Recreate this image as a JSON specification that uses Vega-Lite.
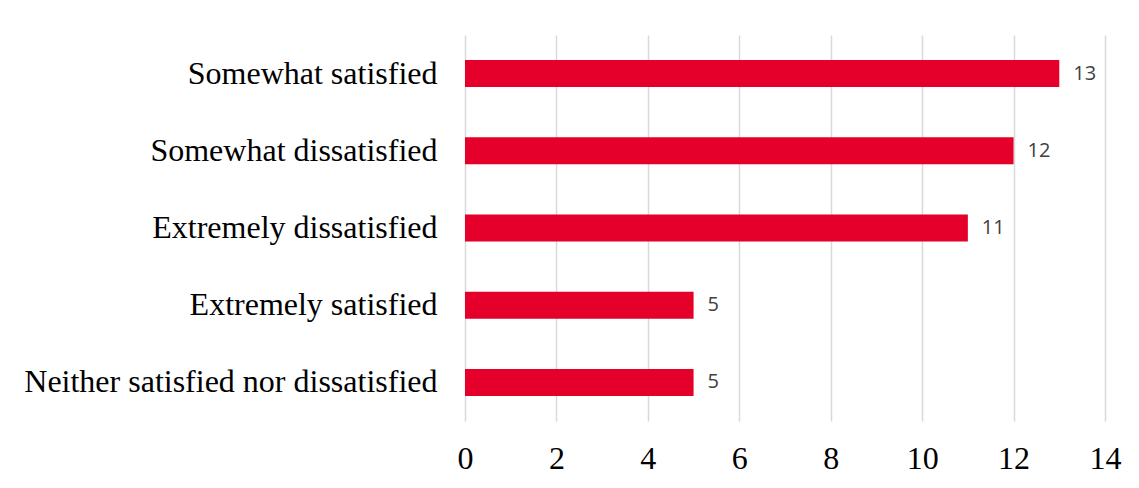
{
  "$schema": "https://vega.github.io/schema/vega-lite/v6.json",
  "autosize": "none",
  "width": 640,
  "height": 386,
  "padding": {"left": 465, "top": 35, "right": 34, "bottom": 67},
  "background": "white",
  "data": {
    "values": [
      {"response": "Somewhat satisfied", "count": 13},
      {"response": "Somewhat dissatisfied", "count": 12},
      {"response": "Extremely dissatisfied", "count": 11},
      {"response": "Extremely satisfied", "count": 5},
      {"response": "Neither satisfied nor dissatisfied", "count": 5}
    ]
  },
  "encoding": {
    "y": {
      "field": "response",
      "type": "nominal",
      "sort": null,
      "title": null,
      "scale": {"paddingInner": 0.65, "paddingOuter": 0.325},
      "axis": {
        "domain": false,
        "ticks": false,
        "grid": false,
        "labelPadding": 28,
        "labelFont": "Liberation Serif",
        "labelFontSize": 32,
        "labelColor": "#000000",
        "labelLimit": 600
      }
    },
    "x": {
      "field": "count",
      "type": "quantitative",
      "title": null,
      "scale": {"domain": [0, 14], "nice": false},
      "axis": {
        "values": [0, 2, 4, 6, 8, 10, 12, 14],
        "domain": false,
        "ticks": false,
        "grid": true,
        "gridColor": "#d9d9d9",
        "gridWidth": 1.5,
        "labelFlush": false,
        "labelPadding": 22,
        "labelFont": "Liberation Serif",
        "labelFontSize": 32,
        "labelColor": "#000000"
      }
    }
  },
  "layer": [
    {"mark": {"type": "bar", "color": "#E4002B"}},
    {
      "mark": {
        "type": "text",
        "align": "left",
        "baseline": "middle",
        "dx": 14,
        "font": "Open Sans",
        "fontSize": 20,
        "color": "#404040"
      },
      "encoding": {"text": {"field": "count", "type": "quantitative"}}
    }
  ],
  "config": {"view": {"stroke": null}}
}
